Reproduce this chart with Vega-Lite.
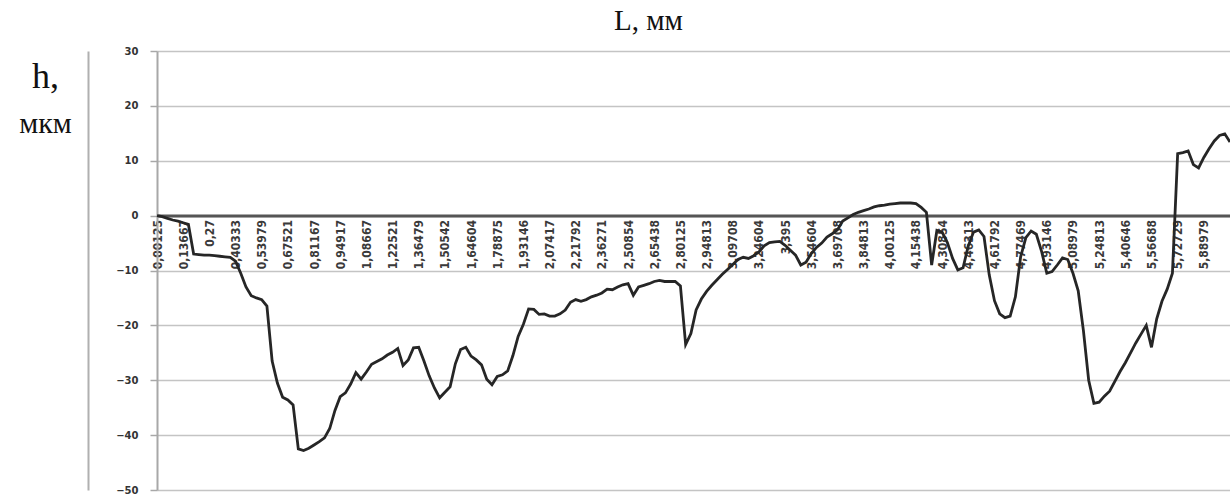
{
  "$schema": "https://vega.github.io/schema/vega-lite/v6.json",
  "width": 1073,
  "height": 439,
  "autosize": {"type": "none"},
  "padding": {"left": 157, "top": 51, "right": 0, "bottom": 10},
  "background": "white",
  "config": {"view": {"stroke": null}},
  "title": {"text": "L, мм", "font": "Liberation Serif", "fontSize": 29, "fontWeight": "normal", "color": "#111", "anchor": "middle", "dx": -45, "offset": 10},
  "data": {"values": [
    {"n":0,"h":0},{"n":1,"h":-0.2},{"n":2,"h":-0.5},{"n":3,"h":-0.8},{"n":4,"h":-1.0},{"n":5,"h":-1.3},{"n":6,"h":-1.6},{"n":7,"h":-7.0},{"n":8,"h":-7.1},{"n":9,"h":-7.2},
    {"n":10,"h":-7.2},{"n":11,"h":-7.3},{"n":12,"h":-7.4},{"n":13,"h":-7.5},{"n":14,"h":-7.6},{"n":15,"h":-8.3},{"n":16,"h":-10.5},{"n":17,"h":-13.0},{"n":18,"h":-14.6},{"n":19,"h":-15.0},
    {"n":20,"h":-15.3},{"n":21,"h":-16.5},{"n":22,"h":-26.5},{"n":23,"h":-30.5},{"n":24,"h":-33.1},{"n":25,"h":-33.6},{"n":26,"h":-34.5},{"n":27,"h":-42.5},{"n":28,"h":-42.8},{"n":29,"h":-42.4},
    {"n":30,"h":-41.8},{"n":31,"h":-41.2},{"n":32,"h":-40.5},{"n":33,"h":-38.8},{"n":34,"h":-35.5},{"n":35,"h":-33.0},{"n":36,"h":-32.3},{"n":37,"h":-30.7},{"n":38,"h":-28.6},{"n":39,"h":-29.8},
    {"n":40,"h":-28.5},{"n":41,"h":-27.1},{"n":42,"h":-26.6},{"n":43,"h":-26.1},{"n":44,"h":-25.4},{"n":45,"h":-24.9},{"n":46,"h":-24.2},{"n":47,"h":-27.3},{"n":48,"h":-26.3},{"n":49,"h":-24.1},
    {"n":50,"h":-24.0},{"n":51,"h":-26.5},{"n":52,"h":-29.2},{"n":53,"h":-31.4},{"n":54,"h":-33.2},{"n":55,"h":-32.2},{"n":56,"h":-31.2},{"n":57,"h":-27.0},{"n":58,"h":-24.4},{"n":59,"h":-24.0},
    {"n":60,"h":-25.6},{"n":61,"h":-26.3},{"n":62,"h":-27.2},{"n":63,"h":-29.8},{"n":64,"h":-30.8},{"n":65,"h":-29.3},{"n":66,"h":-29.0},{"n":67,"h":-28.3},{"n":68,"h":-25.5},{"n":69,"h":-22.0},
    {"n":70,"h":-19.8},{"n":71,"h":-17.0},{"n":72,"h":-17.1},{"n":73,"h":-18.0},{"n":74,"h":-17.9},{"n":75,"h":-18.3},{"n":76,"h":-18.3},{"n":77,"h":-17.9},{"n":78,"h":-17.2},{"n":79,"h":-15.8},
    {"n":80,"h":-15.3},{"n":81,"h":-15.6},{"n":82,"h":-15.3},{"n":83,"h":-14.8},{"n":84,"h":-14.5},{"n":85,"h":-14.1},{"n":86,"h":-13.4},{"n":87,"h":-13.5},{"n":88,"h":-13.0},{"n":89,"h":-12.6},
    {"n":90,"h":-12.4},{"n":91,"h":-14.5},{"n":92,"h":-13.0},{"n":93,"h":-12.7},{"n":94,"h":-12.4},{"n":95,"h":-12.0},{"n":96,"h":-11.8},{"n":97,"h":-12.0},{"n":98,"h":-12.0},{"n":99,"h":-12.0},
    {"n":100,"h":-12.8},{"n":101,"h":-23.5},{"n":102,"h":-21.5},{"n":103,"h":-17.2},{"n":104,"h":-15.2},{"n":105,"h":-13.8},{"n":106,"h":-12.7},{"n":107,"h":-11.7},{"n":108,"h":-10.7},{"n":109,"h":-9.8},
    {"n":110,"h":-8.9},{"n":111,"h":-8.0},{"n":112,"h":-7.6},{"n":113,"h":-7.8},{"n":114,"h":-7.3},{"n":115,"h":-6.6},{"n":116,"h":-5.5},{"n":117,"h":-4.9},{"n":118,"h":-4.8},{"n":119,"h":-4.7},
    {"n":120,"h":-5.4},{"n":121,"h":-6.3},{"n":122,"h":-7.2},{"n":123,"h":-9.0},{"n":124,"h":-8.5},{"n":125,"h":-6.9},{"n":126,"h":-5.8},{"n":127,"h":-5.0},{"n":128,"h":-3.9},{"n":129,"h":-3.3},
    {"n":130,"h":-2.6},{"n":131,"h":-1.0},{"n":132,"h":-0.4},{"n":133,"h":0.2},{"n":134,"h":0.6},{"n":135,"h":0.9},{"n":136,"h":1.2},{"n":137,"h":1.6},{"n":138,"h":1.8},{"n":139,"h":1.9},
    {"n":140,"h":2.1},{"n":141,"h":2.2},{"n":142,"h":2.3},{"n":143,"h":2.3},{"n":144,"h":2.3},{"n":145,"h":2.2},{"n":146,"h":1.5},{"n":147,"h":0.6},{"n":148,"h":-9.0},{"n":149,"h":-2.7},
    {"n":150,"h":-3.0},{"n":151,"h":-4.9},{"n":152,"h":-7.8},{"n":153,"h":-9.9},{"n":154,"h":-9.5},{"n":155,"h":-5.5},{"n":156,"h":-3.0},{"n":157,"h":-2.6},{"n":158,"h":-3.8},{"n":159,"h":-10.8},
    {"n":160,"h":-15.5},{"n":161,"h":-17.9},{"n":162,"h":-18.6},{"n":163,"h":-18.3},{"n":164,"h":-14.8},{"n":165,"h":-7.5},{"n":166,"h":-4.0},{"n":167,"h":-2.8},{"n":168,"h":-3.4},{"n":169,"h":-6.5},
    {"n":170,"h":-10.5},{"n":171,"h":-10.2},{"n":172,"h":-9.0},{"n":173,"h":-7.7},{"n":174,"h":-8.0},{"n":175,"h":-10.5},{"n":176,"h":-13.7},{"n":177,"h":-21.0},{"n":178,"h":-30.0},{"n":179,"h":-34.2},
    {"n":180,"h":-34.0},{"n":181,"h":-32.9},{"n":182,"h":-32.0},{"n":183,"h":-30.2},{"n":184,"h":-28.4},{"n":185,"h":-26.8},{"n":186,"h":-25.0},{"n":187,"h":-23.2},{"n":188,"h":-21.6},{"n":189,"h":-20.0},
    {"n":190,"h":-24.0},{"n":191,"h":-18.8},{"n":192,"h":-15.6},{"n":193,"h":-13.4},{"n":194,"h":-10.5},{"n":195,"h":11.3},{"n":196,"h":11.5},{"n":197,"h":11.8},{"n":198,"h":9.3},{"n":199,"h":8.7},
    {"n":200,"h":10.6},{"n":201,"h":12.2},{"n":202,"h":13.6},{"n":203,"h":14.6},{"n":204,"h":14.9},{"n":205,"h":13.4}
  ]},
  "layer": [
    {
      "mark": {"type": "line", "color": "#262626", "strokeWidth": 2.8},
      "encoding": {
        "x": {
          "field": "n", "type": "quantitative",
          "scale": {"domain": [0, 205], "nice": false, "zero": false},
          "axis": {
            "values": [0,5,10,15,20,25,30,35,40,45,50,55,60,65,70,75,80,85,90,95,100,105,110,115,120,125,130,135,140,145,150,155,160,165,170,175,180,185,190,195,200],
            "labelExpr": "['0,00125','0,13667','0,27','0,40333','0,53979','0,67521','0,81167','0,94917','1,08667','1,22521','1,36479','1,50542','1,64604','1,78875','1,93146','2,07417','2,21792','2,36271','2,50854','2,65438','2,80125','2,94813','3,09708','3,24604','3,395','3,54604','3,69708','3,84813','4,00125','4,15438','4,30854','4,46313','4,61792','4,77469','4,93146','5,08979','5,24813','5,40646','5,56688','5,72729','5,88979'][round(datum.value/5)]",
            "labelAngle": 270,
            "labelFont": "DejaVu Sans Condensed, Liberation Sans Narrow, sans-serif",
            "labelFontSize": 12,
            "labelFontWeight": "bold",
            "labelColor": "#3a3a3a",
            "labelPadding": 4,
            "labelFlush": false,
            "labelOverlap": false,
            "labelBound": false,
            "ticks": false,
            "grid": false,
            "domainColor": "#555",
            "domainWidth": 3,
            "offset": -274.4,
            "title": null
          }
        },
        "y": {
          "field": "h", "type": "quantitative",
          "scale": {"domain": [-50, 30], "nice": false},
          "axis": {
            "values": [-50,-40,-30,-20,-10,0,10,20,30],
            "grid": true, "gridColor": "#c4c4c4", "gridWidth": 1.5,
            "domainColor": "#a8a8a8", "domainWidth": 2,
            "tickColor": "#a8a8a8", "tickSize": 7, "tickWidth": 1.5,
            "labelFont": "DejaVu Sans", "labelFontWeight": "bold", "labelFontSize": 10, "labelColor": "#333", "labelPadding": 12,
            "title": "h,", "titleAngle": 0, "titleFont": "Liberation Serif", "titleFontSize": 36, "titleFontWeight": "normal", "titleColor": "#111",
            "titleX": -112, "titleY": 36, "titleAlign": "center", "titleBaseline": "alphabetic"
          }
        }
      }
    },
    {
      "mark": {"type": "rule", "opacity": 0},
      "encoding": {
        "y": {
          "field": "h", "type": "quantitative",
          "scale": {"domain": [-50, 30], "nice": false},
          "axis": {
            "orient": "left", "offset": 69, "labels": false, "ticks": false, "grid": false,
            "domainColor": "#b0b0b0", "domainWidth": 2,
            "title": "мкм", "titleAngle": 0, "titleFont": "Liberation Serif", "titleFontSize": 30, "titleFontWeight": "normal", "titleColor": "#111",
            "titleX": -43, "titleY": 81, "titleAlign": "center", "titleBaseline": "alphabetic"
          }
        }
      }
    }
  ],
  "resolve": {"scale": {"y": "independent"}}
}
